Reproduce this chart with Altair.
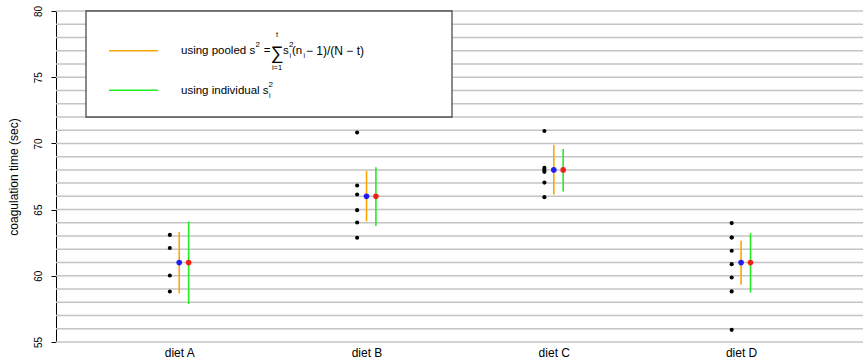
import altair as alt
import pandas as pd

FONT = "Liberation Sans"

# ---- data ----
diet_labels = ["diet A", "diet B", "diet C", "diet D"]
diet_pos = [1, 2, 3, 4]
obs_A = [63.09, 62.10, 60.02, 58.81]
obs_B = [70.82, 66.82, 66.14, 64.96, 64.03, 62.87]
obs_C = [70.94, 68.15, 68.00, 67.85, 67.04, 65.94]
obs_D = [63.98, 62.89, 62.89, 61.89, 60.88, 59.87, 58.82, 55.92]
means = [61, 66, 68, 61]
pooled_lo = [58.67, 64.10, 66.14, 59.32]
pooled_hi = [63.30, 67.92, 69.89, 62.64]
indiv_lo = [57.86, 63.77, 66.36, 58.74]
indiv_hi = [64.10, 68.20, 69.58, 63.22]
grid_values = list(range(55, 81))
y_ticks = [55, 60, 65, 70, 75, 80]

obs_rows = []
for p, vals in zip(diet_pos, [obs_A, obs_B, obs_C, obs_D]):
    for v in vals:
        obs_rows.append({"pos": p, "value": v})
obs_df = pd.DataFrame(obs_rows)
summ_df = pd.DataFrame({"pos": diet_pos, "mean": means,
                        "plo": pooled_lo, "phi": pooled_hi,
                        "ilo": indiv_lo, "ihi": indiv_hi})
grid_df = pd.DataFrame({"g": grid_values})

W, H = 807, 331
OFF = 9.4

xscale = alt.Scale(domain=[0.342, 4.651], nice=False, zero=False)
yscale = alt.Scale(domain=[55, 80], nice=False, zero=False)
label_expr = "[" + ",".join(f"'{d}'" for d in diet_labels) + "][datum.value - 1]"
xaxis = alt.Axis(values=diet_pos, labelExpr=label_expr, ticks=False, domain=False,
                 grid=False, labelFontSize=12, labelPadding=5, labelColor="black",
                 labelFont=FONT, labelFlush=False, labelOverlap=False, title=None)
yaxis = alt.Axis(values=y_ticks, grid=False, tickSize=5, tickColor="black",
                 domainColor="black", labelAngle=270, labelAlign="center",
                 labelBaseline="bottom", labelPadding=8, labelFontSize=10,
                 labelColor="black", labelFont=FONT, labelFlush=False,
                 labelOverlap=False, title="coagulation time (sec)",
                 titleFontSize=12, titleFontWeight="normal", titleColor="black",
                 titleFont=FONT, titleAngle=270, titleX=-43, titleY=H / 2,
                 titleAlign="center", titleBaseline="middle")

grid = alt.Chart(grid_df).mark_rule(color="#c4c4c4", strokeWidth=1.5).encode(
    y=alt.Y("g:Q", scale=yscale, axis=yaxis),
    x=alt.value(0), x2=alt.value(W))

one = alt.Data(values=[{}])

def txt(s, x, y, size, align="left"):
    return alt.Chart(one).mark_text(text=s, fontSize=size, align=align,
                                    baseline="middle", font=FONT, color="black").encode(
        x=alt.value(x), y=alt.value(y))

def hline(x1, x2, y, color):
    return alt.Chart(one).mark_rule(color=color, strokeWidth=1.5).encode(
        x=alt.value(x1), x2=alt.value(x2), y=alt.value(y))

box = alt.Chart(one).mark_rect(fill="white", stroke="#4d4d4d", strokeWidth=1.3).encode(
    x=alt.value(30), x2=alt.value(396), y=alt.value(0), y2=alt.value(106))

ORANGE = "#FFA500"
GREEN = "#22EE22"
FS = 11.5

legend_layers = [
    box,
    hline(53, 102, 39.7, ORANGE),
    hline(53, 102, 79.3, GREEN),
    txt("using pooled s", 125, 40, FS),
    txt("2", 199.5, 34, 8),
    txt("=", 211, 40, FS, "center"),
    txt("\u2211", 221, 42.5, 18, "center"),
    txt("t", 221, 24, 7.5, "center"),
    txt("i=1", 221, 57, 7.5, "center"),
    txt("s", 227, 40, FS),
    txt("2", 233, 34, 8),
    txt("i", 233.5, 44.5, 7),
    txt("(n", 236, 40, FS),
    txt("i", 247.5, 44.5, 7),
    txt(" \u2212 1)/(N \u2212 t)", 250, 40, 12),
    txt("using individual s", 125, 80, FS),
    txt("2", 212.5, 74, 8),
    txt("i", 213, 84.5, 7),
]

X = alt.X("pos:Q", scale=xscale, axis=xaxis)

dots = alt.Chart(obs_df).mark_circle(size=17, color="black", opacity=1, xOffset=-OFF).encode(
    x=X, y=alt.Y("value:Q", scale=yscale, axis=yaxis))

pooled = alt.Chart(summ_df).mark_rule(color=ORANGE, strokeWidth=1.6).encode(
    x=X, y=alt.Y("plo:Q", scale=yscale, axis=yaxis), y2="phi:Q")
indiv = alt.Chart(summ_df).mark_rule(color=GREEN, strokeWidth=1.6, xOffset=OFF).encode(
    x=X, y=alt.Y("ilo:Q", scale=yscale, axis=yaxis), y2="ihi:Q")
mean_blue = alt.Chart(summ_df).mark_circle(size=32, color="blue", opacity=0.85).encode(
    x=X, y=alt.Y("mean:Q", scale=yscale, axis=yaxis))
mean_red = alt.Chart(summ_df).mark_circle(size=32, color="red", opacity=0.85, xOffset=OFF).encode(
    x=X, y=alt.Y("mean:Q", scale=yscale, axis=yaxis))

chart = alt.layer(grid, *legend_layers, dots, pooled, indiv, mean_blue, mean_red).properties(
    width=W, height=H,
    autosize=alt.AutoSizeParams(type="none"),
    padding={"left": 56, "top": 11, "right": 0, "bottom": 21},
    background="white",
).configure_view(stroke=None)

chart.save("out.html", embed_options={"renderer": "svg", "actions": False})
